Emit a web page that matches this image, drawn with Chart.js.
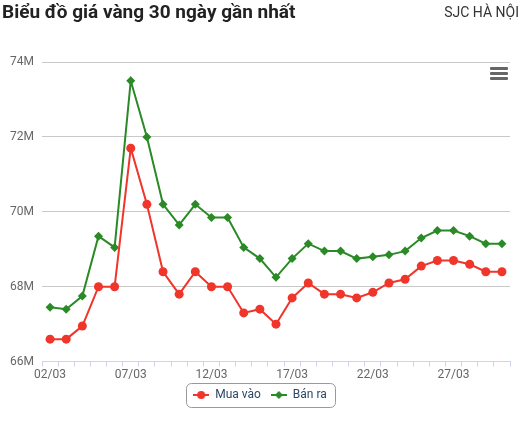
<!DOCTYPE html>
<html>
<head>
<meta charset="utf-8">
<script src="https://cdn.jsdelivr.net/npm/chart.js@4.4.1/dist/chart.umd.min.js"></script>
<style>
  html, body { margin: 0; padding: 0; background: #fff; }
  #wrap { position: relative; width: 520px; height: 423px; font-family: Roboto, sans-serif; }
  #title { position: absolute; left: 2px; top: 0px; font-size: 19px; font-weight: bold; color: #222; line-height: 24px; }
  #sub { position: absolute; right: 1px; top: 2px; font-size: 14px; color: #333; line-height: 20px; }
  #menu { position: absolute; left: 490px; top: 67px; width: 18px; }
  #menu div { height: 3px; background: #666; margin-bottom: 2px; border-radius: 1px; }
  canvas { position: absolute; left: 0; top: 0; }
</style>
</head>
<body>
<div id="wrap">
  <canvas id="goldChart" width="520" height="423"></canvas>
  <div id="title">Biểu đồ giá vàng 30 ngày gần nhất</div>
  <div id="sub">SJC HÀ NỘI</div>
  <div id="menu"><div></div><div></div><div></div></div>
</div>
<script>
// --- DATA ---
const days = ['02/03', '03/03', '04/03', '05/03', '06/03', '07/03', '08/03', '09/03', '10/03', '11/03',
  '12/03', '13/03', '14/03', '15/03', '16/03', '17/03', '18/03', '19/03', '20/03', '21/03',
  '22/03', '23/03', '24/03', '25/03', '26/03', '27/03', '28/03', '29/03', '30/03'];

const buyPrices = [66600000, 66600000, 66950000, 68000000, 68000000, 71700000, 70200000, 68400000, 67800000, 68400000,
  68000000, 68000000, 67300000, 67400000, 67000000, 67700000, 68100000, 67800000, 67800000, 67700000,
  67850000, 68100000, 68200000, 68550000, 68700000, 68700000, 68600000, 68400000, 68400000];

const sellPrices = [67450000, 67400000, 67750000, 69350000, 69050000, 73500000, 72000000, 70200000, 69650000, 70200000,
  69850000, 69850000, 69050000, 68750000, 68250000, 68750000, 69150000, 68950000, 68950000, 68750000,
  68800000, 68850000, 68950000, 69300000, 69500000, 69500000, 69350000, 69150000, 69150000];

const yTicks = [66000000, 68000000, 70000000, 72000000, 74000000];

const RED = '#f0352a';
const GREEN = '#2a8a25';

// --- LEGEND MARKERS (line + symbol) ---
function legendMarker(color, shape) {
  const c = document.createElement('canvas');
  c.width = 16; c.height = 10;
  const g = c.getContext('2d');
  g.strokeStyle = color;
  g.lineWidth = 2;
  g.beginPath(); g.moveTo(0, 5); g.lineTo(16, 5); g.stroke();
  g.fillStyle = color;
  g.beginPath();
  if (shape === 'circle') {
    g.arc(8, 5, 4, 0, Math.PI * 2);
  } else {
    g.moveTo(8, 1); g.lineTo(12, 5); g.lineTo(8, 9); g.lineTo(4, 5); g.closePath();
  }
  g.fill();
  return c;
}

// --- LEGEND BORDER PLUGIN ---
const legendBox = {
  id: 'legendBox',
  afterDraw(chart) {
    const boxes = chart.legend.legendHitBoxes;
    if (!boxes || !boxes.length) return;
    const first = boxes[0], last = boxes[boxes.length - 1];
    const x = first.left - 7, y = first.top - 6;
    const w = last.left + last.width + 8 - x, h = first.height + 12;
    const c = chart.ctx;
    c.save();
    c.strokeStyle = '#999';
    c.lineWidth = 1;
    c.beginPath();
    c.roundRect(Math.round(x) + 0.5, Math.round(y) + 0.5, Math.round(w), Math.round(h), 5);
    c.stroke();
    c.restore();
  }
};

// --- CHART ---
const ctx = document.getElementById('goldChart');
const goldChart = new Chart(ctx, {
  type: 'line',
  data: {
    labels: days,
    datasets: [{
      label: 'Mua vào',
      data: buyPrices,
      borderColor: RED,
      backgroundColor: RED,
      borderWidth: 2,
      tension: 0,
      pointStyle: 'circle',
      pointRadius: 4.5,
      pointBorderWidth: 0,
      pointBackgroundColor: RED
    }, {
      label: 'Bán ra',
      data: sellPrices,
      borderColor: GREEN,
      backgroundColor: GREEN,
      borderWidth: 2,
      tension: 0,
      pointStyle: 'rectRot',
      pointRadius: 4.5,
      pointBorderWidth: 0,
      pointBackgroundColor: GREEN
    }]
  },
  options: {
    responsive: false,
    animation: false,
    layout: { padding: { top: 62, right: 10, left: 10, bottom: 12 } },
    plugins: {
      legend: {
        display: true,
        position: 'bottom',
        labels: {
          usePointStyle: true,
          pointStyleWidth: 16,
          padding: 10,
          color: '#2c4766',
          font: { family: 'Roboto', size: 12 },
          generateLabels(chart) {
            return chart.data.datasets.map((ds, i) => ({
              text: ds.label,
              pointStyle: legendMarker(ds.borderColor, ds.pointStyle === 'circle' ? 'circle' : 'diamond'),
              fillStyle: ds.borderColor,
              strokeStyle: ds.borderColor,
              lineWidth: 0,
              hidden: !chart.isDatasetVisible(i),
              datasetIndex: i,
              fontColor: '#2c4766'
            }));
          }
        }
      },
      tooltip: { enabled: false }
    },
    scales: {
      x: {
        offset: true,
        afterFit: (scale) => { scale.height = scale.height - 4; },
        grid: {
          display: true,
          offset: true,
          drawOnChartArea: false,
          drawTicks: true,
          tickLength: 5,
          color: '#ccd6eb'
        },
        border: { display: true, color: '#ccd6eb', width: 1 },
        ticks: {
          autoSkip: false,
          maxRotation: 0,
          padding: 1,
          color: '#666',
          font: { family: 'Roboto', size: 12 },
          callback: (v, i) => (i % 5 === 0 ? days[i] : '')
        }
      },
      y: {
        min: yTicks[0],
        max: yTicks[yTicks.length - 1],
        afterBuildTicks: (scale) => { scale.ticks = yTicks.map(v => ({ value: v })); },
        afterFit: (scale) => { scale.width = 32; },
        grid: { color: '#c8c8c8', drawTicks: false },
        border: { display: false },
        ticks: {
          padding: 8,
          color: '#666',
          font: { family: 'Roboto', size: 12 },
          callback: (v) => (v / 1000000) + 'M'
        }
      }
    }
  },
  plugins: [legendBox]
});
</script>
</body>
</html>
